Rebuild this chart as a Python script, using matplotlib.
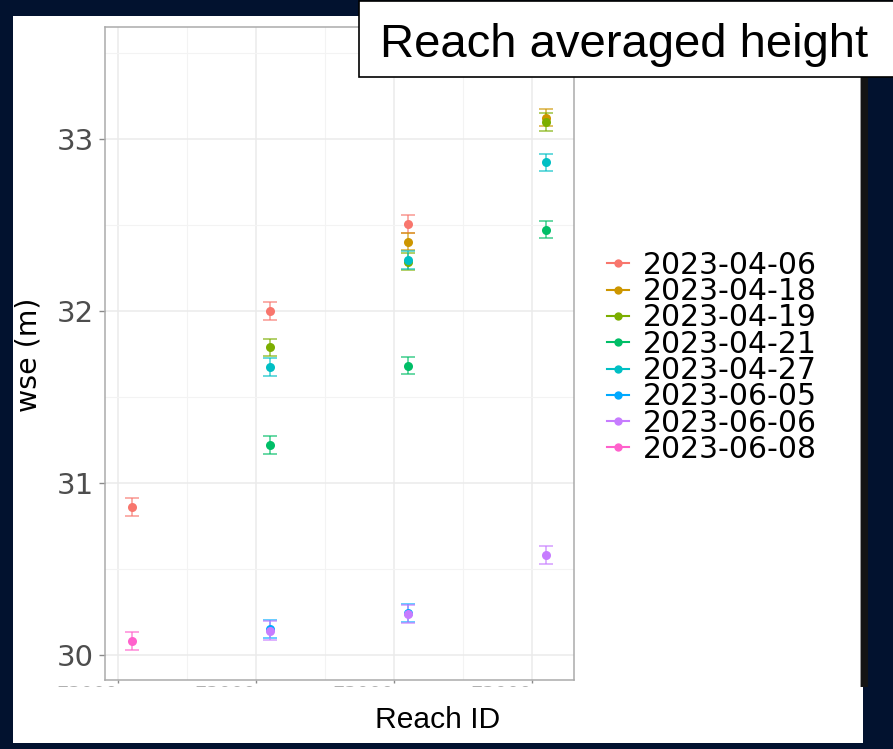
import numpy as np
import matplotlib
matplotlib.use("Agg")
import matplotlib.pyplot as plt
from matplotlib.patches import Rectangle
from matplotlib.lines import Line2D

W, H = 893, 749
DPI = 100

# ---------------- data ----------------
dates = ["2023-04-06", "2023-04-18", "2023-04-19", "2023-04-21",
         "2023-04-27", "2023-06-05", "2023-06-06", "2023-06-08"]
colors = ["#F8766D", "#CD9600", "#7CAE00", "#00BE67",
          "#00BFC4", "#00A9FF", "#C77CFF", "#FF61CC"]
reach_pos = [1, 2, 3, 4]
reach_labels = ["73000", "73000", "73000", "73000"]
nan = np.nan
wse = {
    "2023-04-06": [30.86, 32.00, 32.505, nan],
    "2023-04-18": [nan, nan, 32.403, 33.125],
    "2023-04-19": [nan, 31.789, 32.287, 33.100],
    "2023-04-21": [nan, 31.221, 31.682, 32.473],
    "2023-04-27": [nan, 31.673, 32.297, 32.864],
    "2023-06-05": [nan, 30.152, 30.245, nan],
    "2023-06-06": [nan, 30.142, 30.236, 30.580],
    "2023-06-08": [30.080, nan, nan, nan],
}
wse_err = {
    "2023-04-06": [0.051, 0.051, 0.051, nan],
    "2023-04-18": [nan, nan, 0.051, 0.052],
    "2023-04-19": [nan, 0.051, 0.051, 0.052],
    "2023-04-21": [nan, 0.052, 0.051, 0.051],
    "2023-04-27": [nan, 0.051, 0.051, 0.051],
    "2023-06-05": [nan, 0.053, 0.053, nan],
    "2023-06-06": [nan, 0.053, 0.052, 0.051],
    "2023-06-08": [0.052, nan, nan, nan],
}
y_ticks = [30, 31, 32, 33]
y_minor = [30.5, 31.5, 32.5, 33.5]
x_minor = [1.5, 2.5, 3.5]
dodge = 0.1

# ---------------- figure ----------------
NAVY = "#02122F"
fig = plt.figure(figsize=(W / DPI, H / DPI), dpi=DPI, facecolor=NAVY)


def px_rect(x0, y0, x1, y1, **kw):
    r = Rectangle((x0 / W, 1 - y1 / H), (x1 - x0) / W, (y1 - y0) / H,
                  transform=fig.transFigure, **kw)
    fig.add_artist(r)
    return r


# white panel + black bar
px_rect(13, 16, 860, 687, facecolor="white", edgecolor="none", zorder=-5)
px_rect(860, 77, 868, 687, facecolor="#141414", edgecolor="none", zorder=-5)
px_rect(860, 77, 861, 687, facecolor="#9A9A9A", edgecolor="none", zorder=-4)

# axes
ax_l, ax_r, ax_t, ax_b = 105, 574, 27, 680
ax = fig.add_axes([ax_l / W, 1 - ax_b / H, (ax_r - ax_l) / W, (ax_b - ax_t) / H])
ax.set_facecolor("white")

for d, c in zip(dates, colors):
    y = np.array(wse[d])
    e = np.array(wse_err[d])
    x = np.array(reach_pos) + dodge
    m = ~np.isnan(y)
    ax.errorbar(x[m], y[m], yerr=e[m], fmt="none", ecolor=c, elinewidth=1.1,
                capsize=5, capthick=1.1, alpha=0.75, zorder=3)
    ax.plot(x[m], y[m], "o", color=c, markersize=6.5, markeredgewidth=0,
            zorder=4)

ax.set_yticks(y_ticks)
ax.set_yticks(y_minor, minor=True)
ax.set_xticks(reach_pos)
ax.set_xticks(x_minor, minor=True)
ax.set_xlim(1 - 13 / 138, 4 + 42 / 138)
ax.set_ylim(33 - (ax_b - 139) / 172, 33 + (139 - ax_t) / 172)
ax.set_xticklabels(reach_labels, ha="right", fontsize=14, color="#B0B0B0")
ax.set_yticklabels([str(t) for t in y_ticks], fontsize=21, color="#4D4D4D")
ax.tick_params(axis="y", which="major", length=4.5, width=1, color="#8A8A8A",
               pad=3.6)
ax.tick_params(axis="x", which="major", length=2.5, width=1, color="#8A8A8A",
               pad=1.0)
ax.tick_params(which="minor", length=0)
ax.grid(which="major", color="#EBEBEB", linewidth=1.1)
ax.grid(which="minor", color="#F3F3F3", linewidth=0.8)
ax.set_axisbelow(True)
for s in ax.spines.values():
    s.set_color("#ABABAB")
    s.set_linewidth(1.1)

# y label
fig.text(28.5 / W, 1 - 355 / H, "wse (m)", rotation=90, ha="center",
         va="center", fontsize=20.4, color="black", family="DejaVu Sans")

# legend
handles = [Line2D([], [], color=c, marker="o", markersize=6, lw=1.5,
                  markeredgewidth=0) for c in colors]
fig.legend(handles, dates, loc="center left",
           bbox_to_anchor=(607 / W, 1 - 357.3 / H), frameon=False,
           fontsize=21.5, labelspacing=-0.09, handlelength=0.73,
           handletextpad=0.47, borderpad=0, borderaxespad=0)

# bottom box with x label (covers most of the tick labels)
px_rect(13, 687, 863, 743, facecolor="white", edgecolor="none", zorder=5)
fig.text(438 / W, 1 - 728 / H, "Reach ID", ha="center", va="baseline",
         fontsize=21.6, color="black", family="Liberation Sans", zorder=7)

# title box
px_rect(358.5, 0.5, 900, 77, facecolor="white", edgecolor="black",
        linewidth=1.2, zorder=6)
fig.text(380.5 / W, 1 - 57 / H, "Reach averaged height", ha="left",
         va="baseline", fontsize=34, color="black",
         family="Liberation Sans", zorder=7)

fig.savefig("out.png", dpi=DPI, facecolor=NAVY)
